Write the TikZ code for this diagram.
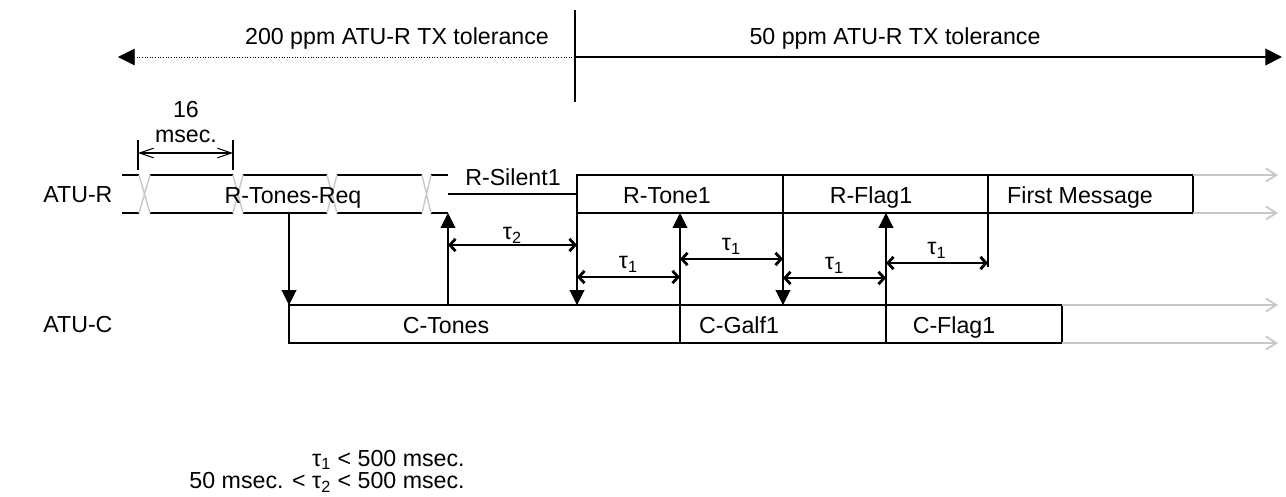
\documentclass[tikz,border=0pt]{standalone}
\usepackage{fontspec}
\setmainfont{Liberation Sans}
\usetikzlibrary{arrows.meta}
\definecolor{cGrey}{RGB}{200,200,200}
\tikzset{
  txt/.style={font=\fontsize{13.2}{16}\selectfont, inner sep=0pt},
  sbox/.style={draw, line width=0.8pt, minimum height=0.76cm, inner sep=0pt, outer sep=0pt, anchor=west},
  rwire/.style={line width=0.8pt},
  xwire/.style={cGrey, line width=0.8pt},
  vup/.style={line width=0.6pt, -{Triangle[length=8.5pt,width=8.5pt]}},
  tau/.style={line width=0.6pt, {Straight Barb[length=3.2pt,width=7pt,line width=1.6pt]}-{Straight Barb[length=3.2pt,width=7pt,line width=1.6pt]}},
  gline/.style={cGrey, line width=1pt, -{Straight Barb[length=6pt,width=7.5pt]}},
}
\begin{document}
\begin{tikzpicture}[x=0.02cm,y=-0.02cm]
\useasboundingbox (0,0) rectangle (1286,497);
% tolerance ranges
\coordinate (split) at (575,57);
\coordinate (leftend) at (118,57);
\coordinate (rightend) at (1282,57);
\draw[line width=0.5pt, densely dotted, -{Triangle[length=9.5pt,width=9.5pt]}] (split) -- (leftend);
\draw[line width=1.1pt, -{Triangle[length=9.5pt,width=9.5pt]}] (split) -- (rightend);
\draw[line width=0.7pt] (575,10) -- (575,102);
\node[txt, anchor=base] (tol200) at (397,45) {200 ppm ATU-R TX tolerance};
\node[txt, anchor=base] (tol50) at (895,45) {50 ppm ATU-R TX tolerance};
% 16 msec.
\coordinate (dl) at (138,140);
\coordinate (dr) at (233,140);
\draw[line width=0.6pt] (dl) -- ++(0,30);
\draw[line width=0.6pt] (dr) -- ++(0,30);
\draw[line width=0.6pt, {Straight Barb[length=8pt,width=5.5pt]}-{Straight Barb[length=8pt,width=5.5pt]}] (dl |- 0,153) -- (dr |- 0,153);
\node[txt, anchor=base] (d16) at (186,117) {16};
\node[txt, anchor=base] (dms) at (186,142) {msec.};
% rows
\node[txt, anchor=base west] (atur) at (43,202) {ATU-R};
\node[txt, anchor=base west] (atuc) at (43,332) {ATU-C};
\foreach \a/\b in {122/139,150/233,243/327,337/422,431/448}
  \draw[rwire] (\a,175) -- (\b,175) (\a,213) -- (\b,213);
\foreach \a/\b in {139/150,233/243,327/337,422/431}
  \draw[xwire] (\a,175) -- (\b,213) (\b,175) -- (\a,213);
\node[txt, anchor=base] (rreq) at (293,203) {R-Tones-Req};
\coordinate (silent) at (448,194);
\node[sbox, minimum width=4.12cm] (rtone) at (577,194) {};
\node[sbox, minimum width=4.10cm] (rflag) at (783,194) {};
\node[sbox, minimum width=4.10cm] (rfirst) at (988,194) {};
\node[sbox, minimum width=7.82cm] (ctones) at (289,324) {};
\node[sbox, minimum width=4.12cm] (cgalf) at (680,324) {};
\node[sbox, minimum width=3.52cm] (cflag) at (886,324) {};
\draw[line width=0.6pt] (silent) -- (rtone.west);
\node[txt, anchor=base] (rsil) at (513,185) {R-Silent1};
\node[txt, anchor=base] (ltone) at (667,203) {R-Tone1};
\node[txt, anchor=base] (lflag) at (871,203) {R-Flag1};
\node[txt, anchor=base] (lfirst) at (1080,203) {First Message};
\node[txt, anchor=base] (lctones) at (446,333) {C-Tones};
\node[txt, anchor=base] (lcgalf) at (739,333) {C-Galf1};
\node[txt, anchor=base] (lcflag) at (954,333) {C-Flag1};
% continuing
\coordinate (gend) at (1278,0);
\draw[gline] (rfirst.north east) -- (rfirst.north east -| gend);
\draw[gline] (rfirst.south east) -- (rfirst.south east -| gend);
\draw[gline] (cflag.north east) -- (cflag.north east -| gend);
\draw[gline] (cflag.south east) -- (cflag.south east -| gend);
% handshake
\draw[vup] (ctones.north west |- rtone.south) -- (ctones.north west);
\draw[vup] (silent |- ctones.north) -- (silent |- rtone.south);
\draw[vup] (rtone.south west) -- (rtone.south west |- ctones.north);
\draw[vup] (cgalf.north west) -- (cgalf.north west |- rtone.south);
\draw[vup] (rflag.south west) -- (rflag.south west |- cgalf.north);
\draw[vup] (cflag.north west) -- (cflag.north west |- rflag.south);
\draw[line width=0.6pt] (rfirst.south west) -- (rfirst.south west |- 0,267);
\draw[tau] (silent |- 0,245) -- (rtone.south west |- 0,245) node[txt, midway, above=0.5pt] (tau2) {τ\textsubscript{2}};
\draw[tau] (rtone.south west |- 0,277) -- (cgalf.north west |- 0,277) node[txt, midway, above=2.5pt] (tau1a) {τ\textsubscript{1}};
\draw[tau] (cgalf.north west |- 0,259) -- (rflag.south west |- 0,259) node[txt, midway, above=2.5pt] (tau1b) {τ\textsubscript{1}};
\draw[tau] (rflag.south west |- 0,278) -- (cflag.north west |- 0,278) node[txt, midway, above=2.5pt] (tau1c) {τ\textsubscript{1}};
\draw[tau] (cflag.north west |- 0,263) -- (rfirst.south west |- 0,263) node[txt, midway, above=2.5pt] (tau1d) {τ\textsubscript{1}};
% limits
\node[txt, anchor=base east] (lim1) at (465,466) {τ\textsubscript{1} < 500 msec.};
\node[txt, anchor=base east] (lim2) at (465,488) {50 msec. < τ\textsubscript{2} < 500 msec.};
\end{tikzpicture}
\end{document}
